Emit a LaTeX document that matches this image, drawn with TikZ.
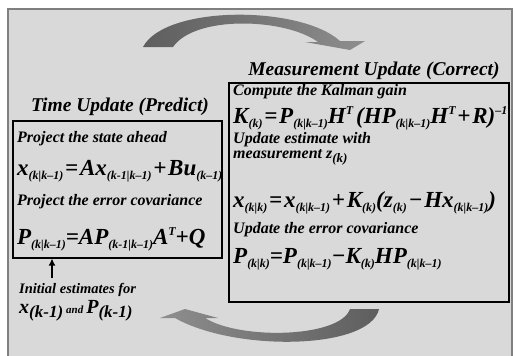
\documentclass[tikz,border=0pt]{standalone}
\usepackage{fontspec}
\setmainfont{Liberation Serif}
\usetikzlibrary{arrows.meta,positioning}

\definecolor{panelgray}{HTML}{D9D9D9}
\definecolor{rimgray}{HTML}{7F7F7F}
\definecolor{arrdark}{HTML}{5E5E5E}
\definecolor{arrlight}{HTML}{8E8E8E}

\newcommand{\lo}[2][12]{\raisebox{-4.5pt}{\fontsize{#1}{#1}\selectfont #2}}
\newcommand{\hi}[2][12]{\raisebox{9pt}{\fontsize{#1}{#1}\selectfont #2}}
\newcommand{\op}[1]{\kern1.8pt#1\kern1.8pt}

\begin{document}
\begin{tikzpicture}[x=1pt, y=-1pt,
    ttl/.style={anchor=base, inner sep=0pt, font=\fontsize{19.5}{22}\selectfont\bfseries\itshape},
    pnl/.style={draw=black, line width=1.1pt, inner sep=0pt},
    lbl/.style={anchor=base west, inner sep=0pt, font=\fontsize{16}{18}\selectfont\bfseries\itshape},
    eqn/.style={anchor=base west, inner sep=0pt, font=\fontsize{23}{26}\selectfont\bfseries\itshape},
    arr/.style={-{Latex[length=7pt,width=7pt]}, line width=1.5pt, draw=black}
]
    \useasboundingbox (0,0) rectangle (515,356);
    \clip (0,0) rectangle (515,356);
    \draw [fill=panelgray, draw=rimgray, line width=2.5pt] (8,9) rectangle (512,370);

    % loop arrows
    \path [left color=arrdark, right color=arrlight]
        (143,47) .. controls (165,5) and (300,5) .. (340,41)
        -- (365,41) -- (350,50) -- (305,42) -- (318,42)
        .. controls (285,18) and (195,15) .. (173,47) -- cycle;
    \path [left color=arrlight, right color=arrdark]
        (379,309) .. controls (370,350) and (235,352) .. (175,318)
        -- (160,318) -- (185,309) -- (218,318) -- (205,318)
        .. controls (240,340) and (340,338) .. (350,309) -- cycle;

    % time update
    \node [ttl] (tutitle) at (120,111) {Time Update (Predict)};
    \node [pnl, minimum width=209pt, minimum height=137pt] (tubox) at (117.5,189.5) {};
    \node [lbl] (tu1) at (17,142) {Project the state ahead};
    \node [eqn] (tu2) at (17,175) {x\lo{(k|k–1)}\op{=}Ax\lo{(k-1|k–1)}\op{+}Bu\lo{(k–1)}};
    \node [lbl] (tu3) at (17,205) {Project the error covariance};
    \node [eqn] (tu4) at (17,244) {P\lo{(k|k–1)}=AP\lo{(k-1|k–1)}A\hi{T}+Q};

    % measurement update
    \node [ttl] (mutitle) at (374,75) {Measurement Update (Correct)};
    \node [pnl, minimum width=280pt, minimum height=219pt] (mubox) at (369,192.5) {};
    \node [lbl] (mu1) at (233,95) {Compute the Kalman gain};
    \node [eqn] (mu2) at (233,123) {K\lo{(k)}\op{=}P\lo{(k|k–1)}H\hi{T}\kern3pt(HP\lo{(k|k–1)}H\hi{T}\op{+}R)\hi{–1}};
    \node [lbl] (mu3) at (233,143) {Update estimate with};
    \node [lbl] (mu4) at (233,158) {measurement z\lo[13]{(k)}};
    \node [eqn] (mu5) at (233,207) {x\lo{(k|k)}\op{=}x\lo{(k|k–1)}\op{+}K\lo{(k)}(z\lo{(k)}\op{−}Hx\lo{(k|k–1)})};
    \node [lbl] (mu6) at (233,233) {Update the error covariance};
    \node [eqn] (mu7) at (233,263) {P\lo{(k|k)}=P\lo{(k|k–1)}−K\lo{(k)}HP\lo{(k|k–1)}};

    % initial estimates
    \node [lbl, font=\fontsize{14.5}{16}\selectfont\bfseries\itshape] (init) at (19,293) {Initial estimates for};
    \node [eqn, font=\fontsize{20}{22}\selectfont\bfseries\itshape] (initvars) at (19,313)
        {x\lo[17]{(k-1)}\kern3pt{\fontsize{11}{11}\selectfont and}\kern3pt P\lo[17]{(k-1)}};
    \coordinate (inittail) at (52,278);
    \draw [arr] (inittail) -- (inittail |- tubox.south);
\end{tikzpicture}
\end{document}
